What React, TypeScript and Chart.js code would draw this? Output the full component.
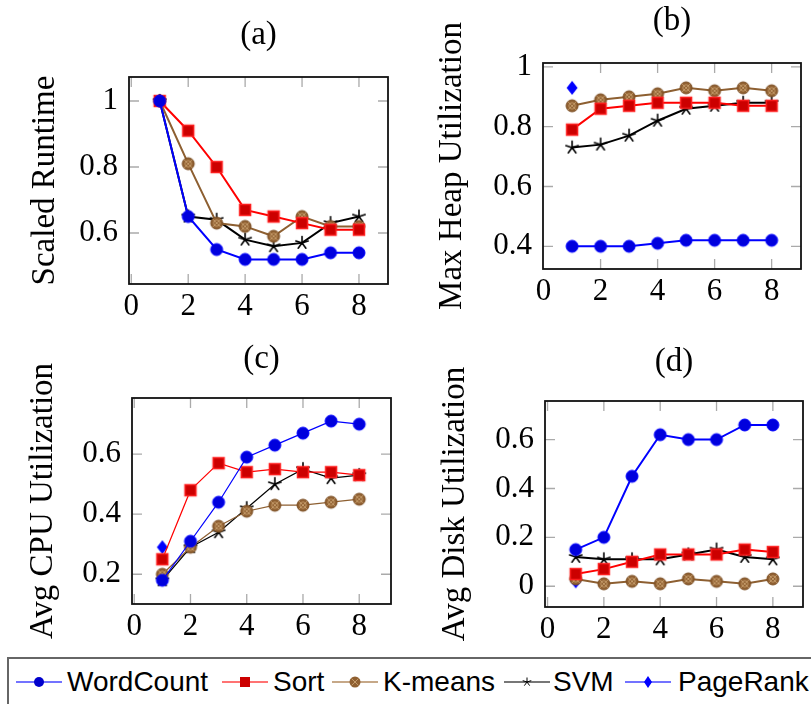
import React, { useEffect, useRef } from "react";
import { Chart, registerables } from "chart.js";
Chart.register(...registerables);

// ---------------- data ----------------
const runs = [1, 2, 3, 4, 5, 6, 7, 8];
const xTicks = [0, 2, 4, 6, 8];

const seriesNames = ["WordCount", "Sort", "K-means", "SVM", "PageRank"];

const runtimeWordCount = [1, 0.65, 0.55, 0.52, 0.52, 0.52, 0.54, 0.54];
const runtimeSort = [1, 0.91, 0.8, 0.67, 0.65, 0.63, 0.61, 0.61];
const runtimeKmeans = [1, 0.81, 0.63, 0.62, 0.59, 0.65, 0.62, 0.62];
const runtimeSVM = [1, 0.65, 0.64, 0.58, 0.56, 0.57, 0.63, 0.65];
const runtimePageRank = [1];

const heapWordCount = [0.4, 0.4, 0.4, 0.41, 0.42, 0.42, 0.42, 0.42];
const heapSort = [0.79, 0.86, 0.87, 0.88, 0.88, 0.88, 0.87, 0.87];
const heapKmeans = [0.87, 0.89, 0.9, 0.91, 0.93, 0.92, 0.93, 0.92];
const heapSVM = [0.73, 0.74, 0.77, 0.82, 0.86, 0.87, 0.88, 0.88];
const heapPageRank = [0.93];

const cpuWordCount = [0.18, 0.31, 0.44, 0.59, 0.63, 0.67, 0.71, 0.7];
const cpuSort = [0.25, 0.48, 0.57, 0.54, 0.55, 0.54, 0.54, 0.53];
const cpuKmeans = [0.2, 0.29, 0.36, 0.41, 0.43, 0.43, 0.44, 0.45];
const cpuSVM = [0.18, 0.29, 0.34, 0.42, 0.5, 0.55, 0.52, 0.53];
const cpuPageRank = [0.29];

const diskWordCount = [0.15, 0.2, 0.45, 0.62, 0.6, 0.6, 0.66, 0.66];
const diskSort = [0.05, 0.07, 0.1, 0.13, 0.13, 0.13, 0.15, 0.14];
const diskKmeans = [0.03, 0.01, 0.02, 0.01, 0.03, 0.02, 0.01, 0.03];
const diskSVM = [0.12, 0.11, 0.11, 0.11, 0.13, 0.15, 0.12, 0.11];
const diskPageRank = [0.02];

const panelTitles = ["(a)", "(b)", "(c)", "(d)"];
const yTitles = [
  "Scaled Runtime",
  "Max Heap Utilization",
  "Avg CPU Utilization",
  "Avg Disk Utilization",
];
const yTicksA = [0.6, 0.8, 1];
const yTicksB = [0.4, 0.6, 0.8, 1];
const yTicksC = [0.2, 0.4, 0.6];
const yTicksD = [0, 0.2, 0.4, 0.6];

// ---------------- styles ----------------
const SERIF = "'Liberation Serif', 'Times New Roman', serif";
const SANS = "'Liberation Sans', Arial, sans-serif";
const lineColors = ["#0000ff", "#ff0000", "#8d5f31", "#000000", "#0000ff"];
const markerKinds = ["circle", "square", "otimes", "star", "diamond"];

type Panel = {
  left: number; top: number; w: number; h: number;
  box: { l: number; r: number; t: number; b: number };
  xMin: number; xMax: number; yMin: number; yMax: number;
  yTicks: number[]; titleCenter: number; yTitleCenter: number; lw: number;
  series: number[][];
};

const panels: Panel[] = [
  {
    left: 0, top: 0, w: 405, h: 330,
    box: { l: 129, r: 388, t: 77, b: 284 },
    xMin: -0.08, xMax: 9.02, yMin: 0.4455, yMax: 1.0727,
    yTicks: yTicksA, titleCenter: 35.5, yTitleCenter: 45, lw: 2,
    series: [runtimeWordCount, runtimeSort, runtimeKmeans, runtimeSVM, runtimePageRank],
  },
  {
    left: 405, top: 0, w: 406, h: 330,
    box: { l: 138, r: 396, t: 63, b: 269 },
    xMin: -0.02, xMax: 9.03, yMin: 0.324, yMax: 1.013,
    yTicks: yTicksB, titleCenter: 21, yTitleCenter: 47.5, lw: 2,
    series: [heapWordCount, heapSort, heapKmeans, heapSVM, heapPageRank],
  },
  {
    left: 0, top: 330, w: 405, h: 320,
    box: { l: 132, r: 391, t: 68, b: 274 },
    xMin: -0.08, xMax: 9.13, yMin: 0.101, yMax: 0.787,
    yTicks: yTicksC, titleCenter: 29.5, yTitleCenter: 43.5, lw: 1.2,
    series: [cpuWordCount, cpuSort, cpuKmeans, cpuSVM, cpuPageRank],
  },
  {
    left: 405, top: 330, w: 406, h: 320,
    box: { l: 140, r: 398, t: 71, b: 277 },
    xMin: -0.09, xMax: 9.07, yMin: -0.085, yMax: 0.758,
    yTicks: yTicksD, titleCenter: 32, yTitleCenter: 50, lw: 2,
    series: [diskWordCount, diskSort, diskKmeans, diskSVM, diskPageRank],
  },
];

function makeMarker(kind: string): HTMLCanvasElement {
  const c = document.createElement("canvas");
  const s = 18;
  c.width = s;
  c.height = s;
  const ctx = c.getContext("2d")!;
  const m = s / 2;
  if (kind === "circle") {
    ctx.beginPath();
    ctx.arc(m, m, 6, 0, Math.PI * 2);
    ctx.fillStyle = "#0000dd";
    ctx.fill();
    ctx.lineWidth = 1;
    ctx.strokeStyle = "#0000ff";
    ctx.stroke();
  } else if (kind === "square") {
    ctx.fillStyle = "#cc0000";
    ctx.fillRect(m - 6, m - 6, 12, 12);
    ctx.strokeStyle = "#ff2020";
    ctx.lineWidth = 1.5;
    ctx.strokeRect(m - 5.5, m - 5.5, 11, 11);
  } else if (kind === "otimes") {
    ctx.beginPath();
    ctx.arc(m, m, 6, 0, Math.PI * 2);
    ctx.fillStyle = "#8f5f30";
    ctx.fill();
    ctx.save();
    ctx.clip();
    ctx.strokeStyle = "rgba(205,165,115,0.85)";
    ctx.lineWidth = 1;
    ctx.beginPath();
    ctx.moveTo(m - 6, m - 6); ctx.lineTo(m + 6, m + 6);
    ctx.moveTo(m + 6, m - 6); ctx.lineTo(m - 6, m + 6);
    ctx.stroke();
    ctx.beginPath();
    ctx.arc(m, m, 3.2, 0, Math.PI * 2);
    ctx.stroke();
    ctx.restore();
    ctx.beginPath();
    ctx.arc(m, m, 6, 0, Math.PI * 2);
    ctx.strokeStyle = "#7a4d22";
    ctx.lineWidth = 1;
    ctx.stroke();
  } else if (kind === "star") {
    ctx.strokeStyle = "#000";
    ctx.lineWidth = 1.6;
    ctx.lineCap = "round";
    ctx.beginPath();
    for (let k = 0; k < 5; k++) {
      const a = -Math.PI / 2 + (k * 2 * Math.PI) / 5;
      ctx.moveTo(m, m);
      ctx.lineTo(m + 6.5 * Math.cos(a), m + 6.5 * Math.sin(a));
    }
    ctx.stroke();
  } else if (kind === "diamond") {
    ctx.beginPath();
    ctx.moveTo(m, m - 7);
    ctx.lineTo(m + 5.5, m);
    ctx.lineTo(m, m + 7);
    ctx.lineTo(m - 5.5, m);
    ctx.closePath();
    ctx.fillStyle = "#0000ff";
    ctx.fill();
  }
  return c;
}

const framePlugin = {
  id: "frame",
  beforeDatasetsDraw(chart: any) {
    const { ctx, chartArea: a, scales } = chart;
    ctx.save();
    ctx.strokeStyle = "#aaaaaa";
    ctx.lineWidth = 1.3;
    const tl = 10;
    ctx.beginPath();
    for (const t of scales.x.ticks) {
      const px = scales.x.getPixelForValue(t.value);
      if (px < a.left + 1 || px > a.right - 1) continue;
      ctx.moveTo(px, a.bottom); ctx.lineTo(px, a.bottom - tl);
      ctx.moveTo(px, a.top); ctx.lineTo(px, a.top + tl);
    }
    for (const t of scales.y.ticks) {
      const py = scales.y.getPixelForValue(t.value);
      ctx.moveTo(a.left, py); ctx.lineTo(a.left + tl, py);
      ctx.moveTo(a.right, py); ctx.lineTo(a.right - tl, py);
    }
    ctx.stroke();
    ctx.strokeStyle = "#111";
    ctx.lineWidth = 1.8;
    ctx.strokeRect(a.left, a.top, a.right - a.left, a.bottom - a.top);
    ctx.restore();
  },
};

const fmt = (v: any) => String(+Number(v).toFixed(2));

function PanelChart({ p, idx }: { p: Panel; idx: number }) {
  const ref = useRef<HTMLCanvasElement | null>(null);
  useEffect(() => {
    if (!ref.current) return;
    const markers = markerKinds.map(makeMarker);
    const datasets = p.series.map((arr, si) => ({
      label: seriesNames[si],
      data: arr.map((y, i) => ({ x: runs[i], y })),
      borderColor: lineColors[si],
      backgroundColor: lineColors[si],
      borderWidth: p.lw,
      pointStyle: markers[si] as any,
      pointRadius: 6,
      pointHoverRadius: 6,
      showLine: si !== 4,
      tension: 0,
      fill: false,
    }));
    const titleLH = 33 * 1.2;
    const tickFont = { family: SERIF, size: 31, lineHeight: 1.2 };
    const chart = new Chart(ref.current, {
      type: "line",
      data: { datasets },
      plugins: [framePlugin],
      options: {
        animation: false,
        responsive: false,
        devicePixelRatio: 1,
        events: [],
        layout: { padding: { left: 0, right: p.w - p.box.r, top: 0, bottom: 0 } },
        plugins: {
          legend: { display: false },
          tooltip: { enabled: false },
          title: {
            display: true,
            text: panelTitles[idx],
            fullSize: false,
            color: "#000",
            font: { family: SERIF, size: 33, weight: "normal", lineHeight: 1.2 },
            padding: {
              top: p.titleCenter - titleLH / 2,
              bottom: p.box.t - (p.titleCenter - titleLH / 2) - titleLH,
            },
          },
        },
        scales: {
          x: {
            type: "linear",
            min: p.xMin,
            max: p.xMax,
            grid: { display: false, drawTicks: false },
            border: { display: false },
            ticks: {
              font: tickFont,
              color: "#000",
              padding: 4,
              autoSkip: false,
              maxRotation: 0,
              callback: fmt,
            },
            afterBuildTicks: (s: any) => {
              s.ticks = xTicks.map((v) => ({ value: v }));
            },
            afterFit: (s: any) => {
              s.height = p.h - p.box.b;
            },
          },
          y: {
            type: "linear",
            min: p.yMin,
            max: p.yMax,
            grid: { display: false, drawTicks: false },
            border: { display: false },
            ticks: {
              font: tickFont,
              color: "#000",
              padding: 11,
              autoSkip: false,
              callback: fmt,
            },
            title: {
              display: true,
              text: yTitles[idx],
              color: "#000",
              font: { family: SERIF, size: 33, lineHeight: 1.2 },
              padding: { top: p.yTitleCenter - titleLH / 2, bottom: 0 },
            },
            afterBuildTicks: (s: any) => {
              s.ticks = p.yTicks.map((v) => ({ value: v }));
            },
            afterFit: (s: any) => {
              s.width = p.box.l;
            },
          },
        },
      } as any,
    });
    return () => chart.destroy();
  }, []);
  return (
    <canvas
      ref={ref}
      width={p.w}
      height={p.h}
      style={{ position: "absolute", left: p.left, top: p.top, width: p.w, height: p.h }}
    />
  );
}

const legendLineColors = ["#7373ff", "#ff7373", "#c6a888", "#777777", "#7373ff"];
const legendSymbolLeft = [16, 222, 332, 504, 625];
const legendTextLeft = [67, 273, 383, 553, 678];

function LegendSymbol({ i }: { i: number }) {
  const cx = 23, cy = 10;
  let marker: any = null;
  if (i === 0) marker = <circle cx={cx} cy={cy} r={5} fill="#0000cc" />;
  if (i === 1) marker = <rect x={cx - 5} y={cy - 5} width={10} height={10} fill="#cc0000" />;
  if (i === 2)
    marker = (
      <g>
        <circle cx={cx} cy={cy} r={5.5} fill="#8f5f30" />
        <path d={`M${cx - 3.5} ${cy - 3.5} L${cx + 3.5} ${cy + 3.5} M${cx + 3.5} ${cy - 3.5} L${cx - 3.5} ${cy + 3.5}`} stroke="#c8a070" strokeWidth={0.9} />
      </g>
    );
  if (i === 3) {
    let d = "";
    for (let k = 0; k < 5; k++) {
      const a = -Math.PI / 2 + (k * 2 * Math.PI) / 5;
      d += `M${cx} ${cy} L${cx + 4.5 * Math.cos(a)} ${cy + 4.5 * Math.sin(a)} `;
    }
    marker = <path d={d} stroke="#000" strokeWidth={1} />;
  }
  if (i === 4) marker = <path d={`M${cx} ${cy - 6} L${cx + 4} ${cy} L${cx} ${cy + 6} L${cx - 4} ${cy} Z`} fill="#0000ff" />;
  return (
    <svg width={46} height={20} style={{ position: "absolute", left: legendSymbolLeft[i], top: 672 }}>
      <line x1={0} y1={cy} x2={46} y2={cy} stroke={legendLineColors[i]} strokeWidth={2} />
      {marker}
    </svg>
  );
}

export default function App() {
  return (
    <div
      style={{
        position: "absolute",
        left: 0,
        top: 0,
        width: 811,
        height: 704,
        overflow: "hidden",
        background: "#fff",
      }}
    >
      {panels.map((p, i) => (
        <PanelChart key={i} p={p} idx={i} />
      ))}
      <div
        style={{
          position: "absolute",
          left: 7,
          top: 657,
          width: 830,
          height: 60,
          border: "2px solid #666",
          boxSizing: "border-box",
        }}
      />
      {seriesNames.map((n, i) => (
        <React.Fragment key={n}>
          <LegendSymbol i={i} />
          <span
            style={{
              position: "absolute",
              left: legendTextLeft[i],
              top: 668,
              fontFamily: SANS,
              fontSize: 28,
              lineHeight: "28px",
              color: "#000",
              whiteSpace: "nowrap",
            }}
          >
            {n}
          </span>
        </React.Fragment>
      ))}
    </div>
  );
}
